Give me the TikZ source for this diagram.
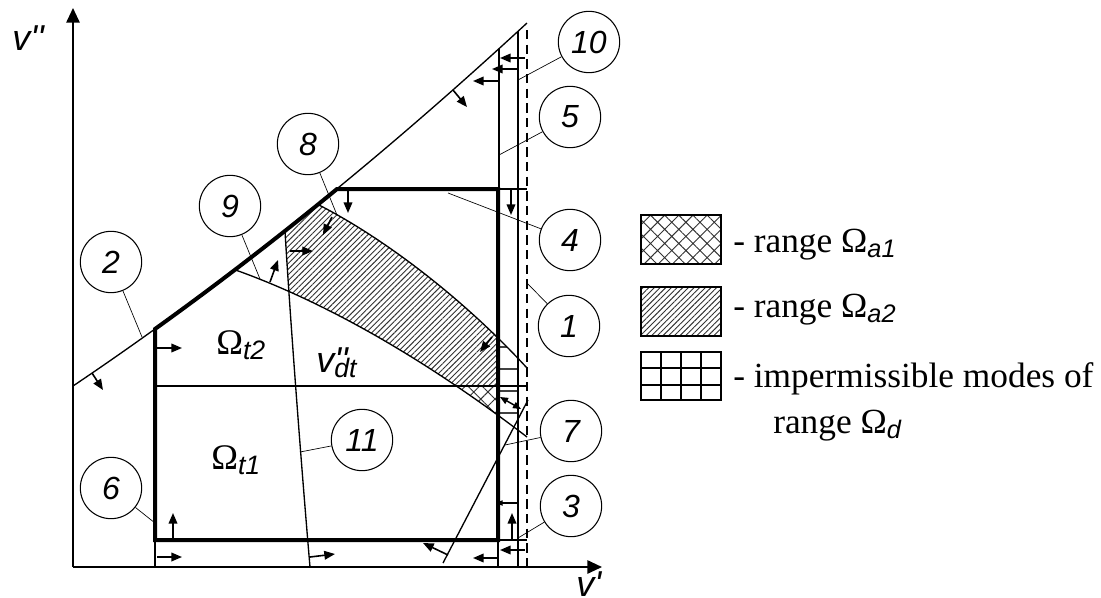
\documentclass[tikz,border=0pt]{standalone}
\usepackage{fontspec}
\setmainfont{Liberation Serif}
\newfontfamily\labelfont{Liberation Sans}
\usetikzlibrary{arrows.meta,patterns.meta}
\newcommand{\subl}[2][18]{\raisebox{-4pt}{\labelfont\itshape\fontsize{#1}{#1}\selectfont #2}}

\begin{document}
\begin{tikzpicture}[x=0.75pt,y=-0.75pt,
  thinline/.style={line width=1pt},
  boldline/.style={line width=3pt, line join=miter},
  leader/.style={line width=0.5pt},
  arr/.style={line width=1.2pt, -{Triangle[length=8pt,width=6.5pt]}},
  num/.style={circle, draw, line width=0.8pt, minimum size=46pt, inner sep=0pt,
    font=\labelfont\itshape\fontsize{24}{24}\selectfont},
  legtext/.style={anchor=base west, inner sep=0pt, font=\fontsize{26.5}{26.5}\selectfont}]
  \useasboundingbox (0,0) rectangle (1101,597);
  % Hatched band between lines 8 and 9 (range a2), lower part crosshatched (range a1)
  \begin{scope}
    \clip (285,231) .. controls (289,300) and (300,450) .. (310,567) -- (498,567) -- (498,150) -- (285,150) -- cycle;
    \fill[pattern={Lines[angle=45,distance=3pt,line width=0.7pt]}, pattern color=black!80]
      (318,204.5) .. controls (380,236) and (460,295) .. (527,368) -- (527,437)
      .. controls (420,355) and (320,300) .. (235,269.8) -- cycle;
    \clip (0,386) rectangle (1101,597);
    \fill[white]
      (318,204.5) .. controls (380,236) and (460,295) .. (527,368) -- (527,437)
      .. controls (420,355) and (320,300) .. (235,269.8) -- cycle;
    \fill[pattern={Hatch[angle=45,distance=7.5pt,line width=0.7pt]}, pattern color=black!80]
      (318,204.5) .. controls (380,236) and (460,295) .. (527,368) -- (527,437)
      .. controls (420,355) and (320,300) .. (235,269.8) -- cycle;
  \end{scope}
  % Impermissible modes right of the box
  \begin{scope}
    \clip (498,300) rectangle (518,450);
    \clip (318,204.5) .. controls (380,236) and (460,295) .. (527,368) -- (527,437)
      .. controls (420,355) and (320,300) .. (235,269.8) -- cycle;
    \foreach \y in {347,369,391,413}
      \draw[line width=1.3pt, black!75] (498,\y) -- (518,\y);
  \end{scope}
  % Axes
  \draw[line width=1.4pt, -{Triangle[length=11pt,width=10pt]}] (73,567) -- (73,8);
  \draw[line width=1.4pt, -{Triangle[length=11pt,width=10pt]}] (73,567) -- (602,567);
  \node[anchor=base west, inner sep=0pt] at (12,50) {\labelfont\itshape\fontsize{27}{27}\selectfont v''};
  \node[anchor=base west, inner sep=0pt] at (576,596) {\labelfont\itshape\fontsize{27}{27}\selectfont v'};
  % Line 2
  \draw[thinline] (73,386) .. controls (224.3,284.3) and (375.7,162.7) .. (527,23);
  % Lines 8 and 9
  \draw[thinline] (318,204.5) .. controls (380,236) and (460,295) .. (527,368);
  \draw[thinline] (235,269.8) .. controls (320,300) and (420,355) .. (527,437);
  % Line 11
  \draw[thinline] (285,231) .. controls (289,300) and (300,450) .. (310,567);
  % Line 7
  \draw[thinline] (443,563) -- (528,400);
  % Horizontal v''dt
  \draw[thinline] (155,386) -- (527,386);
  % Right vertical lines (5, 10, 1)
  \draw[thinline] (499,49) -- (499,189);
  \draw[thinline] (518,31) -- (518,567);
  \draw[thinline, dash pattern=on 7pt off 4pt] (527,30) -- (527,567);
  \draw[thinline] (498,189) -- (527,189);
  \draw[thinline] (498,540) -- (527,540);
  \draw[thinline] (498,503) -- (518,503);
  \draw[thinline] (155,540) -- (155,567);
  \draw[thinline] (498,540) -- (498,567);
  % Range of the box (bold)
  \draw[boldline] (337,189) -- (498,189) -- (498,540) -- (155,540) -- (155,329)
    .. controls (215.67,285.43) and (276.33,238.77) .. (337,189) -- cycle;
  % Normal arrows
  \draw[arr] (92,373) -- (103,390);
  \draw[arr] (157,348) -- (182,348);
  \draw[arr] (173,540) -- (173,513);
  \draw[arr] (157,557) -- (182,557);
  \draw[arr] (310,557) -- (335,554);
  \draw[arr] (270,282) -- (278,260);
  \draw[arr] (290,251) -- (313,251);
  \draw[arr] (332,217) -- (323,235);
  \draw[arr] (492,337) -- (480,352);
  \draw[arr] (348,189) -- (348,213);
  \draw[arr] (511,189) -- (511,215);
  \draw[arr] (453,90) -- (467,107);
  \draw[arr] (525,58) -- (500,58);
  \draw[arr] (518,69) -- (492,69);
  \draw[arr] (499,81) -- (473,81);
  \draw[arr] (512,540) -- (512,513);
  \draw[arr] (525,550) -- (500,550);
  \draw[arr] (498,558) -- (473,558);
  \draw[arr] (448,555) -- (423,543);
  \draw[line width=0.8pt, -{Triangle[length=5pt,width=4pt]}] (508,503) -- (496,503);
  \draw[line width=1.1pt, {Triangle[length=6pt,width=5pt]}-{Triangle[length=6pt,width=5pt]}] (500,397) -- (521,409);
  % Region labels
  \node[anchor=base west, inner sep=0pt] at (216,354) {\fontsize{27}{27}\selectfont Ω\subl[20]{t2}};
  \node[anchor=base west, inner sep=0pt] at (211,469) {\fontsize{27}{27}\selectfont Ω\subl[20]{t1}};
  \node[anchor=base west, inner sep=0pt] at (316,372)
    {\labelfont\itshape\fontsize{27}{27}\selectfont v\rlap{''}\subl[20]{dt}};
  % Numbered circles
  \node[num] (n1) at (569,326) {1};
  \node[num] (n2) at (111,262) {2};
  \node[num] (n3) at (571,506) {3};
  \node[num] (n4) at (570,240) {4};
  \node[num] (n5) at (570,117) {5};
  \node[num] (n6) at (111,488) {6};
  \node[num] (n7) at (571,431) {7};
  \node[num] (n8) at (308,144) {8};
  \node[num] (n9) at (230,206) {9};
  \node[num] (n10) at (589,42) {10};
  \node[num] (n11) at (362,440) {11};
  \coordinate (p1) at (527,283);
  \coordinate (p2) at (142,337);
  \coordinate (p3) at (518,538);
  \coordinate (p4) at (448,193);
  \coordinate (p5) at (499,155);
  \coordinate (p6) at (155,523);
  \coordinate (p7) at (505,445);
  \coordinate (p8) at (337,215);
  \coordinate (p9) at (260,279);
  \coordinate (p10) at (518,80);
  \coordinate (p11) at (300,452);
  \foreach \i in {1,...,11}
    \draw[leader] (n\i) -- (p\i);
  % Legend
  \draw[line width=1pt, pattern={Hatch[angle=45,distance=7.5pt,line width=0.7pt]}, pattern color=black!80]
    (641,215) rectangle (721,264);
  \node[legtext] at (733,252) {- range Ω\subl[19]{a1}};
  \draw[line width=1pt, pattern={Lines[angle=45,distance=3pt,line width=0.7pt]}, pattern color=black!80]
    (641,287) rectangle (721,336);
  \node[legtext] at (733,317) {- range Ω\subl[19]{a2}};
  \draw[line width=1pt] (641,352) rectangle (721,400);
  \foreach \x in {661,681,701}
    \draw[line width=1pt] (\x,352) -- (\x,400);
  \foreach \y in {368,385}
    \draw[line width=1pt] (641,\y) -- (721,\y);
  \node[legtext] at (733,387) {- impermissible modes of};
  \node[legtext] at (773,433) {range Ω\subl[19]{d}};
\end{tikzpicture}
\end{document}
